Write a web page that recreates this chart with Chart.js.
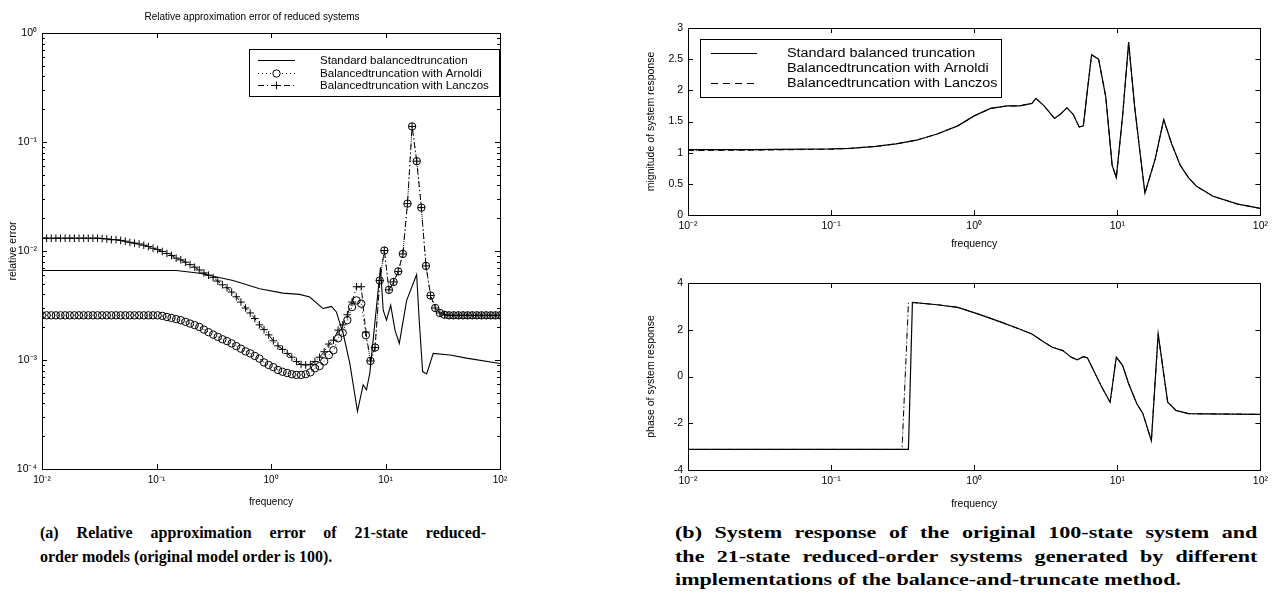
<!DOCTYPE html>
<html>
<head>
<meta charset="utf-8">
<script src="https://cdn.jsdelivr.net/npm/chart.js@4.4.0/dist/chart.umd.min.js"></script>
<style>
  html, body { margin: 0; padding: 0; background: #fff; }
  body { width: 1273px; height: 603px; position: relative; overflow: hidden; }
  canvas { position: absolute; }
  #errChart { left: 0; top: 0; }
  #magChart { left: 640px; top: 0; }
  #phaseChart { left: 640px; top: 262px; }
  .caption { position: absolute; font-family: "Liberation Serif", "Times New Roman", serif; font-weight: bold; font-size: 16px; line-height: 23.5px; color: #000; transform-origin: 0 0; }
  .caption div { white-space: nowrap; }
  .caption .j { text-align: justify; text-align-last: justify; white-space: normal; }
  #capA { left: 40px; top: 521px; width: 446px; }
  #capB { left: 675px; top: 521px; width: 422px; transform: scaleX(1.38); }
</style>
</head>
<body>
<canvas id="errChart" width="542" height="510"></canvas>
<canvas id="magChart" width="633" height="252"></canvas>
<canvas id="phaseChart" width="633" height="250"></canvas>
<div class="caption" id="capA">
  <div class="j">(a) Relative approximation error of 21-state reduced-</div>
  <div>order models (original model order is 100).</div>
</div>
<div class="caption" id="capB">
  <div class="j">(b) System response of the original 100-state system and</div>
  <div class="j">the 21-state reduced-order systems generated by different</div>
  <div>implementations of the balance-and-truncate method.</div>
</div>
<script>
"use strict";

// ---- data ----
const seriesLabelsA = ['Standard balancedtruncation', 'Balancedtruncation with Arnoldi', 'Balancedtruncation with Lanczos'];
const seriesLabelsB = ['Standard balanced truncation', 'Balancedtruncation with Arnoldi', 'Balancedtruncation with Lanczos'];

const freqTicks = [0.01, 0.1, 1, 10, 100];
const errTicks = [1e-4, 1e-3, 1e-2, 1e-1, 1];
const magTicks = [0, 0.5, 1, 1.5, 2, 2.5, 3];
const phaseTicks = [-4, -2, 0, 2, 4];

// 100 log-spaced frequencies (the marker grid of the error plot)
const errFreq = Array.from({ length: 100 }, (_, i) => 10 ** (-2 + 4 * i / 99));

const errArnoldi = [
  0.00257, 0.00257, 0.00257, 0.00257, 0.00257, 0.00257, 0.00257, 0.00257, 0.00257, 0.00257,
  0.00257, 0.00257, 0.00257, 0.00257, 0.00257, 0.00257, 0.00257, 0.00257, 0.00257, 0.00257,
  0.00257, 0.00257, 0.00257, 0.00257, 0.00257, 0.00257, 0.00254, 0.00248, 0.00243, 0.00237,
  0.00232, 0.00224, 0.00216, 0.00209, 0.00201, 0.00190, 0.00180, 0.00171, 0.00163, 0.00155,
  0.00149, 0.00142, 0.00134, 0.00127, 0.00120, 0.00115, 0.00109, 0.00103, 0.00095, 0.00090,
  0.00086, 0.00081, 0.00078, 0.00076, 0.00074, 0.00073, 0.00073, 0.00074, 0.00077, 0.00084,
  0.00088, 0.00097, 0.00111, 0.00123, 0.00158, 0.00178, 0.00232, 0.00306, 0.00352, 0.00329,
  0.00169, 0.00098, 0.00130, 0.00536, 0.0101, 0.0044, 0.0052, 0.0065, 0.0094, 0.0272,
  0.139, 0.0667, 0.0250, 0.0073, 0.0039, 0.0030, 0.0027, 0.0026, 0.00257, 0.00257,
  0.00257, 0.00257, 0.00257, 0.00257, 0.00257, 0.00257, 0.00257, 0.00257, 0.00257, 0.00257
];

const errLanczos = [
  0.0131, 0.0131, 0.0131, 0.0131, 0.0131, 0.0131, 0.0131, 0.0131, 0.0131, 0.0131,
  0.0131, 0.0131, 0.0131, 0.0130, 0.0129, 0.0127, 0.0127, 0.0125, 0.0123, 0.0120,
  0.0118, 0.0116, 0.0113, 0.0110, 0.0106, 0.0103, 0.0099, 0.0095, 0.0091, 0.0086,
  0.0083, 0.0079, 0.0075, 0.0071, 0.0067, 0.0063, 0.0060, 0.0057, 0.0053, 0.0049,
  0.0046, 0.0042, 0.0038, 0.0034, 0.0030, 0.0027, 0.0024, 0.0021, 0.0019, 0.0017,
  0.0015, 0.00135, 0.00125, 0.00115, 0.00106, 0.00097, 0.00091, 0.00090, 0.00091, 0.00097,
  0.00106, 0.00119, 0.0014, 0.00152, 0.00188, 0.0021, 0.0026, 0.0034, 0.0047, 0.0047,
  0.0018, 0.00098, 0.00130, 0.00536, 0.0101, 0.0044, 0.0052, 0.0065, 0.0094, 0.0272,
  0.139, 0.0667, 0.0250, 0.0073, 0.0039, 0.0030, 0.0027, 0.0026, 0.00257, 0.00257,
  0.00257, 0.00257, 0.00257, 0.00257, 0.00257, 0.00257, 0.00257, 0.00257, 0.00257, 0.00257
];

const errStdFreq = [0.01, 0.149, 0.238, 0.466, 0.796, 1.27, 1.78, 2.18, 2.85, 3.37, 3.72, 4.27, 4.88, 5.69, 6.38, 6.82,
  7.29, 9.04, 9.55, 10.2, 11.1, 12.1, 13.2, 15.3, 18.7, 19.7, 21.1, 22.9, 26.1, 36.6, 51.0, 100];
const errStd = [0.00662, 0.00662, 0.00625, 0.00536, 0.00450, 0.00411, 0.00400, 0.00378, 0.00296, 0.00310, 0.00276,
  0.00175, 0.00093, 0.000338, 0.000592, 0.000532, 0.000755, 0.0071, 0.00286, 0.00232, 0.00318, 0.00188, 0.00142,
  0.00352, 0.00608, 0.00232, 0.000783, 0.000745, 0.00115, 0.00111, 0.00104, 0.00093];

const magFreq = [0.01, 0.0279, 0.0984, 0.137, 0.204, 0.284, 0.395, 0.551, 0.767, 1.0, 1.30, 1.70, 2.07, 2.53, 2.70,
  3.08, 3.64, 4.02, 4.44, 4.90, 5.42, 5.79, 6.18, 6.61, 7.40, 8.30, 9.20, 9.84, 10.9, 12.0, 13.2, 14.5, 15.6, 18.4,
  21.1, 24.0, 27.5, 31.4, 35.8, 46.7, 69.5, 100];
const magStd = [1.05, 1.05, 1.06, 1.07, 1.10, 1.14, 1.20, 1.30, 1.43, 1.59, 1.71, 1.75, 1.75, 1.79, 1.87,
  1.75, 1.55, 1.62, 1.72, 1.62, 1.41, 1.43, 2.00, 2.57, 2.50, 1.90, 0.80, 0.60, 1.60, 2.77, 1.75, 0.95, 0.35, 0.90,
  1.53, 1.14, 0.80, 0.60, 0.46, 0.30, 0.175, 0.106];
const magReduced = [1.035, 1.04, 1.055, 1.07, 1.10, 1.14, 1.20, 1.30, 1.43, 1.59, 1.71, 1.75, 1.75, 1.79, 1.87,
  1.75, 1.55, 1.62, 1.72, 1.62, 1.41, 1.43, 2.00, 2.57, 2.50, 1.90, 0.80, 0.60, 1.60, 2.77, 1.75, 0.95, 0.35, 0.90,
  1.53, 1.14, 0.80, 0.60, 0.46, 0.30, 0.175, 0.106];

const phaseFreq = [0.01, 0.347, 0.370, 0.551, 0.767, 1.07, 1.49, 2.07, 2.53, 3.08, 3.52, 4.16, 4.75, 5.24, 5.79,
  6.18, 6.83, 7.80, 8.91, 9.84, 10.9, 12.0, 13.7, 15.1, 17.3, 19.3, 21.1, 22.5, 25.7, 31.4, 40.9, 100];
const phaseStd = [-3.12, -3.12, 3.17, 3.07, 2.96, 2.67, 2.36, 2.03, 1.82, 1.47, 1.25, 1.11, 0.83, 0.71, 0.85,
  0.80, 0.26, -0.46, -1.10, 0.83, 0.47, -0.31, -1.17, -1.59, -2.75, 1.82, 0.11, -1.10, -1.45, -1.59, -1.60, -1.62];
const phaseRedFreq = [0.01, 0.313, 0.347, 0.370, 0.551, 0.767, 1.07, 1.49, 2.07, 2.53, 3.08, 3.52, 4.16, 4.75, 5.24,
  5.79, 6.18, 6.83, 7.80, 8.91, 9.84, 10.9, 12.0, 13.7, 15.1, 17.3, 19.3, 21.1, 22.5, 25.7, 31.4, 40.9, 100];
const phaseReduced = [-3.12, -3.12, 3.14, 3.17, 3.07, 2.96, 2.67, 2.36, 2.03, 1.82, 1.47, 1.25, 1.11, 0.83, 0.71,
  0.85, 0.80, 0.26, -0.46, -1.10, 0.83, 0.47, -0.31, -1.17, -1.59, -2.75, 1.82, 0.11, -1.10, -1.45, -1.59, -1.60, -1.62];

// ---- helpers ----
const SANS = '"Liberation Sans", Arial, Helvetica, sans-serif';
const SUP = { '-': '\u207B', '0': '\u2070', '1': '\u00B9', '2': '\u00B2', '3': '\u00B3', '4': '\u2074' };
const powLabel = v => '10' + String(Math.round(Math.log10(v))).split('').map(c => SUP[c]).join('');
const pts = (xs, ys) => xs.map((x, i) => ({ x, y: ys[i] }));

// box around the plot plus MATLAB-like inward ticks on all four sides
const frameTicks = {
  id: 'frameTicks',
  afterDatasetsDraw(chart, args, opts) {
    const { ctx, chartArea: a } = chart;
    const xs = chart.scales.x, ys = chart.scales.y;
    ctx.save();
    ctx.strokeStyle = '#000';
    ctx.lineWidth = 1;
    ctx.setLineDash([]);
    ctx.strokeRect(Math.round(a.left) + 0.5, Math.round(a.top) + 0.5, Math.round(a.right - a.left), Math.round(a.bottom - a.top));
    const major = opts.major || 5, minor = opts.minor || 3;
    ctx.beginPath();
    xs.ticks.forEach(t => {
      const px = Math.round(xs.getPixelForValue(t.value)) + 0.5;
      ctx.moveTo(px, a.bottom); ctx.lineTo(px, a.bottom - major);
      ctx.moveTo(px, a.top); ctx.lineTo(px, a.top + major);
    });
    const yTick = (v, len) => {
      const py = Math.round(ys.getPixelForValue(v)) + 0.5;
      ctx.moveTo(a.left, py); ctx.lineTo(a.left + len, py);
      ctx.moveTo(a.right, py); ctx.lineTo(a.right - len, py);
    };
    ys.ticks.forEach(t => yTick(t.value, major));
    if (ys.type === 'logarithmic') {
      for (let d = ys.min; d < ys.max; d *= 10) {
        for (let m = 2; m <= 9; m++) yTick(d * m, minor);
      }
    }
    ctx.stroke();
    ctx.restore();
  }
};

// boxed legend drawn inside the plot, as in the MATLAB figure
const boxLegend = {
  id: 'boxLegend',
  afterDraw(chart, args, o) {
    if (!o.box) return;
    const { ctx } = chart;
    const b = o.box;
    ctx.save();
    ctx.fillStyle = '#fff';
    ctx.fillRect(b.left, b.top, b.width, b.height);
    ctx.strokeStyle = '#000';
    ctx.lineWidth = 1;
    ctx.setLineDash([]);
    ctx.strokeRect(b.left + 0.5, b.top + 0.5, b.width, b.height);
    ctx.font = o.font;
    ctx.textBaseline = 'middle';
    ctx.fillStyle = '#000';
    chart.data.datasets.forEach((ds, i) => {
      const y = Math.round(b.top + o.firstRow + i * o.rowGap) + 0.5;
      const x0 = b.left + o.lineFrom, x1 = b.left + o.lineTo, xm = (x0 + x1) / 2;
      if (!(o.hideSample || []).includes(i)) {
        ctx.setLineDash(o.sampleDash ? o.sampleDash[i] : (ds.borderDash || []));
        ctx.lineWidth = 1;
        ctx.beginPath(); ctx.moveTo(x0, y); ctx.lineTo(x1, y); ctx.stroke();
        ctx.setLineDash([]);
        if (ds.pointRadius > 0 && ds.pointStyle === 'circle') {
          ctx.beginPath(); ctx.arc(xm, y, ds.pointRadius, 0, Math.PI * 2);
          ctx.fillStyle = '#fff'; ctx.fill(); ctx.stroke(); ctx.fillStyle = '#000';
        } else if (ds.pointRadius > 0 && ds.pointStyle === 'cross') {
          const r = ds.pointRadius;
          ctx.beginPath(); ctx.moveTo(xm - r, y); ctx.lineTo(xm + r, y); ctx.moveTo(xm, y - r); ctx.lineTo(xm, y + r); ctx.stroke();
        }
      }
      // the scanned figure is slightly stretched sideways, so the text may be too
      ctx.save();
      ctx.translate(b.left + o.textX, y);
      ctx.scale(o.textScaleX || 1, 1);
      ctx.fillText(ds.label, 0, 0);
      ctx.restore();
    });
    ctx.restore();
  }
};

Chart.register(frameTicks, boxLegend);
Chart.defaults.font.family = SANS;
Chart.defaults.color = '#000';

const freqAxis = (height, size) => ({
  type: 'logarithmic', min: 0.01, max: 100,
  afterBuildTicks: s => { s.ticks = freqTicks.map(v => ({ value: v })); },
  afterFit: s => { s.height = height; },
  grid: { display: false, drawTicks: false },
  border: { display: false },
  ticks: { callback: v => powLabel(v), font: { size: size }, padding: 5, maxRotation: 0, autoSkip: false },
  title: { display: true, text: 'frequency', font: { size: size }, padding: { top: 0, bottom: 2 } }
});

const valueAxis = (type, min, max, ticks, label, width, size, fmt) => ({
  type, min, max,
  afterBuildTicks: s => { s.ticks = ticks.map(v => ({ value: v })); },
  afterFit: s => { s.width = width; },
  grid: { display: false, drawTicks: false },
  border: { display: false },
  ticks: { callback: fmt, font: { size: size }, padding: 5, autoSkip: false },
  title: { display: true, text: label, font: { size: size }, padding: { top: 3, bottom: 0 } }
});

const baseOptions = {
  responsive: false, animation: false, devicePixelRatio: 1,
  plugins: { legend: { display: false }, tooltip: { enabled: false } },
  elements: { line: { tension: 0, borderWidth: 1, borderColor: '#000' }, point: { hitRadius: 0 } }
};

// ---- (a) relative error ----
new Chart('errChart', {
  type: 'line',
  data: {
    datasets: [
      { label: seriesLabelsA[0], data: pts(errStdFreq, errStd), borderColor: '#000', borderWidth: 1.1, pointRadius: 0 },
      { label: seriesLabelsA[1], data: pts(errFreq, errArnoldi), borderColor: '#000', borderWidth: 1, borderDash: [1, 3],
        pointStyle: 'circle', pointRadius: 3.7, pointBorderWidth: 1, pointBorderColor: '#000', pointBackgroundColor: 'rgba(0,0,0,0)' },
      { label: seriesLabelsA[2], data: pts(errFreq, errLanczos), borderColor: '#000', borderWidth: 1, borderDash: [6, 3, 1, 3],
        pointStyle: 'cross', pointRadius: 3.8, pointBorderWidth: 1, pointBorderColor: '#000' }
    ]
  },
  options: {
    ...baseOptions,
    layout: { padding: { left: 4, right: 42, top: 0, bottom: 0 } },
    scales: {
      x: freqAxis(41, 10),
      y: valueAxis('logarithmic', 1e-4, 1, errTicks, 'relative error', 38, 10.5, v => powLabel(v))
    },
    plugins: {
      ...baseOptions.plugins,
      title: { display: true, text: 'Relative approximation error of reduced systems', font: { size: 10, weight: 'normal' }, padding: { top: 11, bottom: 10 } },
      frameTicks: { major: 5, minor: 3 },
      boxLegend: {
        box: { left: 249, top: 49, width: 250, height: 47 },
        firstRow: 11, rowGap: 12.5, lineFrom: 9, lineTo: 46, textX: 71,
        font: '11px ' + SANS, textScaleX: 1.05
      }
    }
  }
});

// ---- (b) magnitude ----
new Chart('magChart', {
  type: 'line',
  data: {
    datasets: [
      { label: seriesLabelsB[0], data: pts(magFreq, magStd), borderColor: '#000', borderWidth: 1.2, pointRadius: 0 },
      { label: seriesLabelsB[1], data: pts(magFreq, magReduced), borderColor: 'rgba(0,0,0,0.6)', borderWidth: 1, borderDash: [1, 3], pointRadius: 0 },
      { label: seriesLabelsB[2], data: pts(magFreq, magReduced), borderColor: '#000', borderWidth: 1, borderDash: [6, 4], pointRadius: 0 }
    ]
  },
  options: {
    ...baseOptions,
    layout: { padding: { left: 2, right: 11, top: 28, bottom: 0 } },
    scales: {
      x: freqAxis(37, 10.5),
      y: valueAxis('linear', 0, 3, magTicks, 'mignitude of system response', 46, 10.5, v => String(v))
    },
    plugins: {
      ...baseOptions.plugins,
      frameTicks: { major: 5 },
      boxLegend: {
        box: { left: 60, top: 39, width: 301, height: 58 },
        firstRow: 14, rowGap: 15, lineFrom: 11, lineTo: 57, textX: 87,
        hideSample: [1], sampleDash: [[], [1, 3], [7, 5]],
        font: '12px ' + SANS, textScaleX: 1.2
      }
    }
  }
});

// ---- (b) phase ----
new Chart('phaseChart', {
  type: 'line',
  data: {
    datasets: [
      { label: seriesLabelsB[0], data: pts(phaseFreq, phaseStd), borderColor: '#000', borderWidth: 1.2, pointRadius: 0 },
      { label: seriesLabelsB[1], data: pts(phaseRedFreq, phaseReduced), borderColor: 'rgba(0,0,0,0.6)', borderWidth: 1, borderDash: [1, 3], pointRadius: 0 },
      { label: seriesLabelsB[2], data: pts(phaseRedFreq, phaseReduced), borderColor: '#000', borderWidth: 1, borderDash: [6, 3, 1, 3], pointRadius: 0 }
    ]
  },
  options: {
    ...baseOptions,
    layout: { padding: { left: 2, right: 11, top: 21, bottom: 0 } },
    scales: {
      x: freqAxis(42, 10.5),
      y: valueAxis('linear', -4, 4, phaseTicks, 'phase of system response', 46, 10.5, v => String(v))
    },
    plugins: {
      ...baseOptions.plugins,
      frameTicks: { major: 5 }
    }
  }
});
</script>
</body>
</html>
